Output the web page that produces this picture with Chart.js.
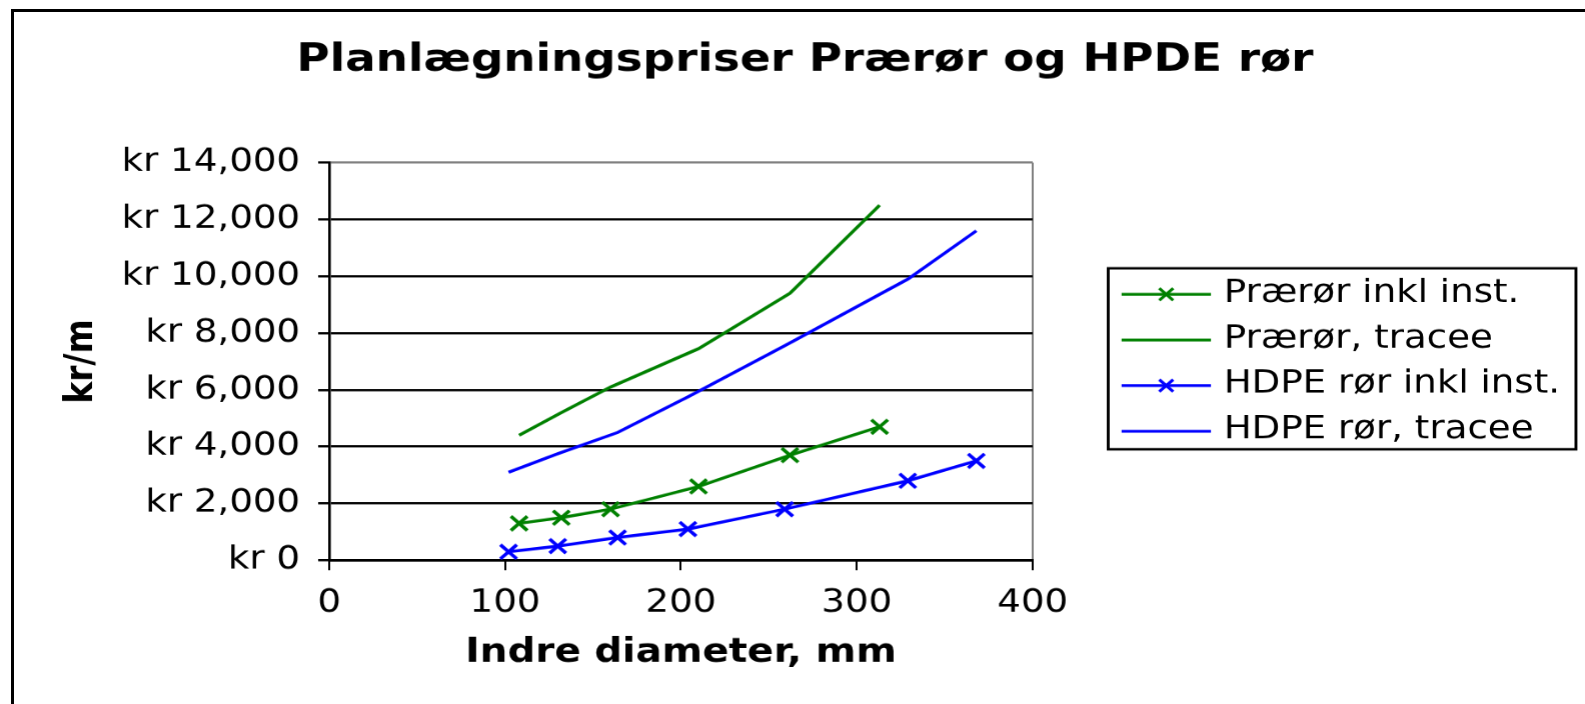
<!DOCTYPE html>
<html>
<head>
<meta charset="utf-8">
<script src="https://cdn.jsdelivr.net/npm/chart.js@4.4.0/dist/chart.umd.min.js"></script>
<style>
    html, body { margin: 0; padding: 0; background: #fff; overflow: hidden; }
    #frame { position: absolute; left: 11px; top: 9px; width: 2000px; height: 2000px; border-left: 3px solid #000; border-top: 3px solid #000; }
    #chart { position: absolute; left: 0; top: 0; }
</style>
</head>
<body>
<div id="frame"></div>
<canvas id="chart" width="1366" height="704" style="width: 1585px; height: 704px;"></canvas>
<script>
// The reference picture is stretched sideways, so the chart is drawn narrow and widened by CSS
const STRETCH = 1.16;
const FONT = 'DejaVu Sans, Verdana, sans-serif';

// Data
const praerorDiameter = [ 108, 132, 160, 210, 262, 313 ];
const praerorInkl = [ 1300, 1500, 1800, 2600, 3700, 4700 ];
const praerorTracee = [ 4400, 5200, 6100, 7450, 9400, 12500 ];
const hdpeDiameter = [ 102, 130, 164, 204, 259, 329, 368 ];
const hdpeInkl = [ 300, 500, 800, 1100, 1800, 2800, 3500 ];
const hdpeTracee = [ 3100, 3750, 4500, 5750, 7550, 9900, 11600 ];
const seriesNames = [ 'Prærør inkl inst.', 'Prærør, tracee', 'HDPE rør inkl inst.', 'HDPE rør, tracee' ];
const xMin = 0, xMax = 400, xStep = 100;
const yMin = 0, yMax = 14000, yStep = 2000;

const GREEN = '#008000';
const BLUE = '#0000ff';

// legend sample line is drawn by the plugin, a bit longer than the box Chart.js reserves
const SAMPLE_LEN = 77;
const SAMPLE_BOX = 72;

function points ( xs, ys )
{
    return xs.map( ( x, i ) => ( { x: x, y: ys[ i ] } ) );
}

function lineSet ( label, data, color, marker )
{
    return {
        label: label,
        data: data,
        borderColor: color,
        backgroundColor: color,
        borderWidth: 3,
        tension: 0,
        pointStyle: 'crossRot',
        pointRadius: marker ? 10 : 0,
        pointBorderWidth: 3.2,
        pointBorderColor: color,
        _marker: marker
    };
}

function drawCross ( ctx, x, y, r, color )
{
    ctx.save();
    ctx.strokeStyle = color;
    ctx.lineWidth = 2.8;
    ctx.beginPath();
    ctx.moveTo( x - r, y - r );
    ctx.lineTo( x + r, y + r );
    ctx.moveTo( x - r, y + r );
    ctx.lineTo( x + r, y - r );
    ctx.stroke();
    ctx.restore();
}

// Border round the legend, sample lines and the X markers on them
const legendFrame = {
    id: 'legendFrame',
    afterDraw ( chart )
    {
        const legend = chart.legend;
        const boxes = legend.legendHitBoxes;
        if ( !boxes || !boxes.length ) return;
        const ctx = chart.ctx;
        const left = boxes[ 0 ].left - 11.5;
        const top = boxes[ 0 ].top - 9;
        const last = boxes[ boxes.length - 1 ];
        const bottom = last.top + last.height + 3;
        const right = left + 403;
        ctx.save();
        ctx.strokeStyle = '#000';
        ctx.lineWidth = 2.5;
        ctx.strokeRect( left, top, right - left, bottom - top );
        ctx.restore();
        const fs = legend.options.labels.font.size;
        chart.data.datasets.forEach( ( ds, i ) =>
        {
            const hb = boxes[ i ];
            const y = hb.top + fs / 2 + 1;
            ctx.save();
            ctx.strokeStyle = ds.borderColor;
            ctx.lineWidth = 2.8;
            ctx.beginPath();
            ctx.moveTo( hb.left, y );
            ctx.lineTo( hb.left + SAMPLE_LEN, y );
            ctx.stroke();
            ctx.restore();
            if ( ds._marker )
            {
                drawCross( ctx, hb.left + SAMPLE_LEN / 2, y, 6, ds.borderColor );
            }
        } );
    }
};

new Chart( document.getElementById( 'chart' ), {
    type: 'line',
    data: {
        datasets: [
            lineSet( seriesNames[ 0 ], points( praerorDiameter, praerorInkl ), GREEN, true ),
            lineSet( seriesNames[ 1 ], points( praerorDiameter, praerorTracee ), GREEN, false ),
            lineSet( seriesNames[ 2 ], points( hdpeDiameter, hdpeInkl ), BLUE, true ),
            lineSet( seriesNames[ 3 ], points( hdpeDiameter, hdpeTracee ), BLUE, false )
        ]
    },
    options: {
        responsive: false,
        devicePixelRatio: STRETCH,
        animation: false,
        layout: { padding: { left: 33, right: 12, top: 10, bottom: 31 } },
        plugins: {
            title: {
                display: true,
                text: 'Planlægningspriser Prærør og HPDE rør',
                color: '#000',
                font: { family: FONT, size: 39, weight: 'bold' },
                padding: { top: 27.5, bottom: 78.2 }
            },
            legend: {
                position: 'right',
                maxWidth: 460,
                // blank title only pushes the centred rows down
                title: { display: true, text: ' ', font: { size: 10 }, padding: { top: 0, bottom: 28 } },
                labels: {
                    color: '#000',
                    font: { family: FONT, size: 32 },
                    boxWidth: SAMPLE_BOX,
                    boxHeight: 2,
                    padding: 13.6,
                    generateLabels: ( chart ) => Chart.defaults.plugins.legend.labels.generateLabels( chart )
                        .map( l => Object.assign( l, { lineWidth: 0, fillStyle: 'rgba(0,0,0,0)', strokeStyle: 'rgba(0,0,0,0)' } ) )
                }
            },
            tooltip: { enabled: false }
        },
        scales: {
            x: {
                type: 'linear',
                min: xMin,
                max: xMax,
                afterFit: ( s ) => { s.height = 113.15; },
                ticks: { stepSize: xStep, color: '#000', font: { family: FONT, size: 32 }, padding: 14, maxRotation: 0 },
                grid: {
                    drawOnChartArea: true,
                    color: ( c ) => c.tick && c.tick.value === xMax ? '#808080' : 'rgba(0,0,0,0)',
                    tickColor: '#000',
                    tickLength: 10,
                    lineWidth: 2 / STRETCH
                },
                border: { color: '#000', width: 2.5 },
                title: {
                    display: true,
                    text: 'Indre diameter, mm',
                    color: '#000',
                    font: { family: FONT, size: 33.5, weight: 'bold' },
                    padding: { top: 0, bottom: 0 }
                }
            },
            y: {
                min: yMin,
                max: yMax,
                afterFit: ( s ) => { s.width = 250.6; },
                ticks: {
                    stepSize: yStep,
                    color: '#000',
                    font: { family: FONT, size: 32 },
                    padding: 15.5,
                    callback: ( v ) => 'kr ' + v.toLocaleString( 'en-US' )
                },
                grid: {
                    color: ( c ) => c.tick && c.tick.value === yMax ? '#808080' : '#000',
                    tickColor: '#000',
                    tickLength: 9.5,
                    lineWidth: 2.2
                },
                border: { color: '#000', width: 2.6 / STRETCH },
                title: {
                    display: true,
                    text: 'kr/m',
                    color: '#000',
                    font: { family: FONT, size: 33, weight: 'bold' },
                    padding: { top: 18.2, bottom: 16 }
                }
            },
            // empty axis that only keeps a gap between the plot and the legend
            gap: {
                type: 'linear',
                position: 'right',
                afterFit: ( s ) => { s.width = 63; },
                ticks: { display: false },
                grid: { display: false },
                border: { display: false }
            }
        }
    },
    plugins: [ legendFrame ]
} );
</script>
</body>
</html>
